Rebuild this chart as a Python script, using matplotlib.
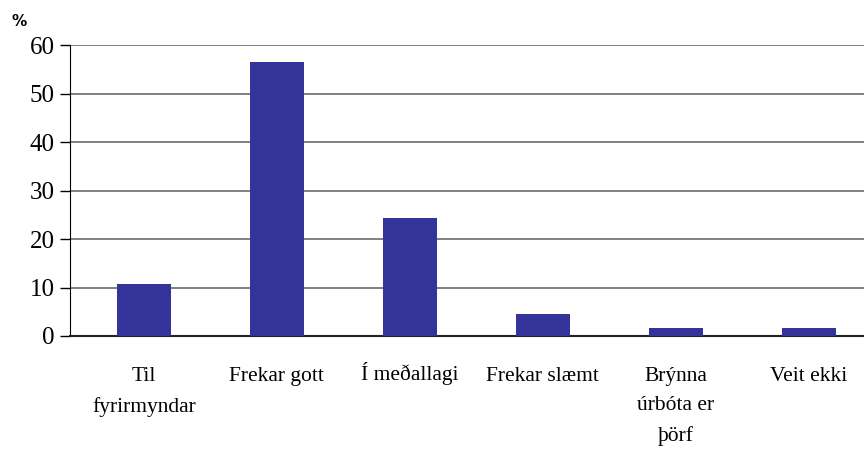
import matplotlib
matplotlib.use("Agg")
import matplotlib.pyplot as plt
import matplotlib.transforms as mtransforms

categories = ["Til\nfyrirmyndar", "Frekar gott", "Í meðallagi", "Frekar slæmt",
              "Brýnna\núrbóta er\nþörf", "Veit ekki"]
values = [10.7, 56.5, 24.3, 4.5, 1.6, 1.6]
yticks = [0, 10, 20, 30, 40, 50, 60]

plt.rcParams["font.family"] = ["Liberation Serif", "DejaVu Serif"]

fig = plt.figure(figsize=(8.64, 4.5), dpi=100)
ax = fig.add_axes([70 / 864, 1 - 336 / 450, 794 / 864, 291 / 450])

x = range(len(categories))
ax.bar(x, values, width=0.41, color="#333399", zorder=3)

ax.set_xlim(-0.555, 5.415)
ax.set_ylim(0, 60)
ax.set_yticks(yticks)
ax.yaxis.grid(True, color="#808080", linewidth=1.4, zorder=1)
ax.tick_params(axis="y", direction="out", length=7, width=1, labelsize=18, pad=4)
ax.tick_params(axis="x", length=0, labelsize=15.5, pad=22)
ax.set_xticks(list(x))
ax.set_xticklabels(categories, linespacing=1.75, va="top")

# keep the accented label's text line level with its neighbours
for lbl in ax.get_xticklabels():
    if lbl.get_text().startswith("Í"):
        lbl.set_transform(lbl.get_transform() +
                          mtransforms.ScaledTranslation(0, 5 / 100, fig.dpi_scale_trans))

for s in ["top", "right"]:
    ax.spines[s].set_visible(False)
ax.spines["left"].set_color("black")
ax.spines["bottom"].set_color("#222222")
ax.spines["bottom"].set_linewidth(1.5)

fig.text(12 / 864, 1 - 22 / 450, "%", family="DejaVu Sans", fontweight="bold",
         fontsize=11, va="center", ha="left")

fig.savefig("out.png", dpi=100)
